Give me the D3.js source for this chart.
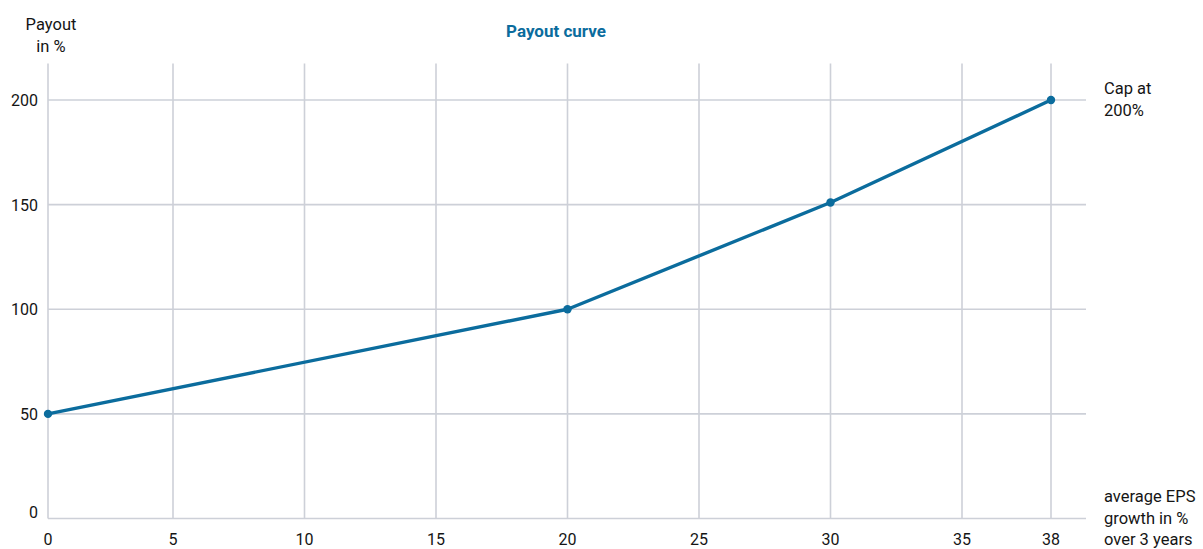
<!DOCTYPE html>
<html>
<head>
<meta charset="utf-8">
<script src="https://cdn.jsdelivr.net/npm/d3@7"></script>
<style>
  html, body { margin: 0; padding: 0; background: #fff; }
  svg { display: block; font-family: Roboto, "Noto Sans", sans-serif; }
</style>
</head>
<body>
<svg id="chart" width="1203" height="549"></svg>
<script>
// Payout curve: EPS growth (x) vs payout percentage (y)
const growth = [0, 20, 30, 38];
const payout = [50, 100, 151, 200];
const xTicks = [0, 5, 10, 15, 20, 25, 30, 35, 38];
const yTicks = [0, 50, 100, 150, 200];
const title = "Payout curve";
const yTitle = ["Payout", "in %"];
const xTitle = ["average EPS", "growth in %", "over 3 years"];
const capNote = ["Cap at", "200%"];

const blue = "#0b6c9d";
const grid = "#cdd0d8";
const ink = "#151515";

const svg = d3.select("#chart");

// Piecewise linear x scale (the axis spacing widens slightly toward the cap)
const x = d3.scaleLinear().domain([0, 5, 35, 38]).range([48, 173, 962, 1051]);
const y = d3.scaleLinear().domain([0, 200]).range([518.5, 100]);
const gridRight = 1086;
const gridTop = y(217.5);

// vertical gridlines
svg.append("g").selectAll("line").data(xTicks).join("line")
  .attr("x1", d => x(d)).attr("x2", d => x(d))
  .attr("y1", gridTop).attr("y2", y(0))
  .attr("stroke", grid).attr("stroke-width", 1.6);

// horizontal gridlines (baseline included)
svg.append("g").selectAll("line").data(yTicks).join("line")
  .attr("x1", x(0)).attr("x2", gridRight)
  .attr("y1", d => y(d)).attr("y2", d => y(d))
  .attr("stroke", grid).attr("stroke-width", 1.6);

// x tick labels
svg.append("g").selectAll("text").data(xTicks).join("text")
  .attr("x", d => x(d)).attr("y", 545)
  .attr("text-anchor", "middle")
  .attr("font-size", 16).attr("fill", ink)
  .text(d => d);

// y tick labels
svg.append("g").selectAll("text").data(yTicks).join("text")
  .attr("x", 38).attr("y", d => d === 0 ? y(d) - 1 : y(d) + 6)
  .attr("text-anchor", "end")
  .attr("font-size", 16).attr("fill", ink)
  .text(d => d);

// title
svg.append("text")
  .attr("x", 556).attr("y", 37)
  .attr("text-anchor", "middle")
  .attr("font-size", 17).attr("font-weight", "bold")
  .attr("fill", blue)
  .text(title);

// y axis title
svg.append("g").selectAll("text").data(yTitle).join("text")
  .attr("x", 51).attr("y", (d, i) => 30 + i * 21.5)
  .attr("text-anchor", "middle")
  .attr("font-size", 16.5).attr("fill", ink)
  .text(d => d);

// cap annotation
svg.append("g").selectAll("text").data(capNote).join("text")
  .attr("x", 1104).attr("y", (d, i) => 94 + i * 21.5)
  .attr("font-size", 16.5).attr("fill", ink)
  .text(d => d);

// x axis title
svg.append("g").selectAll("text").data(xTitle).join("text")
  .attr("x", 1104).attr("y", (d, i) => 502 + i * 21.5)
  .attr("font-size", 16.5).attr("fill", ink)
  .text(d => d);

// curve
const pts = growth.map((g, i) => [g, payout[i]]);
svg.append("path")
  .datum(pts)
  .attr("d", d3.line().x(d => x(d[0])).y(d => y(d[1])))
  .attr("fill", "none").attr("stroke", blue)
  .attr("stroke-width", 3.4).attr("stroke-linejoin", "round");

svg.append("g").selectAll("circle").data(pts).join("circle")
  .attr("cx", d => x(d[0])).attr("cy", d => y(d[1]))
  .attr("r", 4.2).attr("fill", blue);
</script>
</body>
</html>
